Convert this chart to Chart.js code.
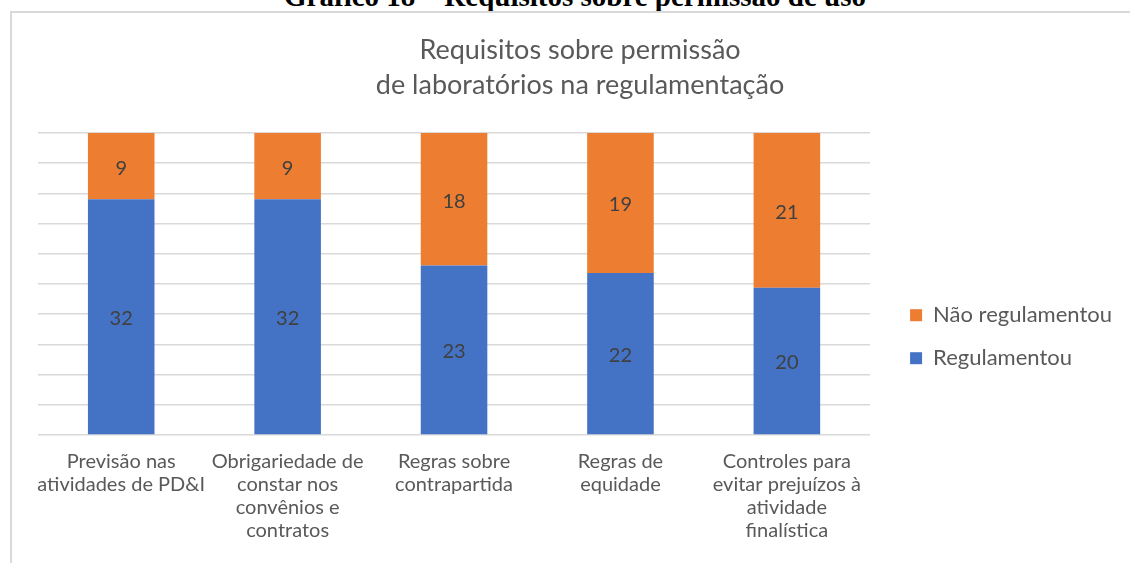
<!DOCTYPE html>
<html>
<head>
<meta charset="utf-8">
<script src="https://cdn.jsdelivr.net/npm/chart.js@4.4.1/dist/chart.umd.min.js"></script>
<style>
  html, body { margin: 0; padding: 0; background: #fff; overflow: hidden; }
  #wrap { position: relative; width: 1130px; height: 563px; }
  #heading {
    position: absolute; left: 0; width: 1150px; top: -20px; line-height: 1;
    text-align: center; font: bold 29px "Liberation Serif", serif; color: #000;
  }
  #frame {
    position: absolute; left: 10px; top: 11px; width: 1200px; height: 700px;
    border: 2px solid #d9d9d9; box-sizing: border-box;
  }
  #metricsChart { position: absolute; left: 0; top: 0; }
</style>
</head>
<body>
<div id="wrap">
  <div id="heading">Gráfico 18 – Requisitos sobre permissão de uso</div>
  <div id="frame"></div>
  <canvas id="metricsChart" width="1130" height="563"></canvas>
</div>
<script>
const categories = [
  ["Previsão nas", "atividades de PD&I"],
  ["Obrigariedade de", "constar nos", "convênios e", "contratos"],
  ["Regras sobre", "contrapartida"],
  ["Regras de", "equidade"],
  ["Controles para", "evitar prejuízos à", "atividade", "finalística"],
];
const regulamentou = [32, 32, 23, 22, 20];
const naoRegulamentou = [9, 9, 18, 19, 21];

const totals = regulamentou.map((v, i) => v + naoRegulamentou[i]);
const pct = (arr) => arr.map((v, i) => (v / totals[i]) * 100);

const textColor = "#595959";
const fontFamily = "Lato, 'Open Sans', sans-serif";

// inline value labels in the middle of each bar segment
const barLabels = {
  id: "barLabels",
  afterDatasetsDraw(chart) {
    const ctx = chart.ctx;
    ctx.save();
    ctx.font = "20px " + fontFamily;
    ctx.fillStyle = "#404040";
    ctx.textAlign = "center";
    ctx.textBaseline = "middle";
    chart.data.datasets.forEach((ds, di) => {
      chart.getDatasetMeta(di).data.forEach((bar, i) => {
        const y = (bar.y + bar.base) / 2 + 2;
        ctx.fillText(String(ds.raw[i]), bar.x, y);
      });
    });
    ctx.restore();
  },
};

new Chart(document.getElementById("metricsChart").getContext("2d"), {
  type: "bar",
  data: {
    labels: categories,
    datasets: [
      {
        label: "Regulamentou",
        raw: regulamentou,
        data: pct(regulamentou),
        backgroundColor: "#4472C4",
        barPercentage: 0.4,
        categoryPercentage: 1,
      },
      {
        label: "Não regulamentou",
        raw: naoRegulamentou,
        data: pct(naoRegulamentou),
        backgroundColor: "#ED7D31",
        barPercentage: 0.4,
        categoryPercentage: 1,
      },
    ],
  },
  options: {
    responsive: false,
    animation: false,
    layout: { padding: { left: 38, right: 8, top: 0, bottom: 6 } },
    plugins: {
      title: {
        display: true,
        text: ["Requisitos sobre permissão", "de laboratórios na regulamentação"],
        color: textColor,
        font: { family: fontFamily, size: 27, weight: "normal", lineHeight: 35 / 27 },
        padding: { top: 33, bottom: 30 },
      },
      legend: {
        position: "right",
        reverse: true,
        // empty title only pushes the items down
        title: { display: true, text: "", font: { size: 12 }, padding: { top: 0, bottom: 102 } },
        labels: {
          color: textColor,
          font: { family: fontFamily, size: 22 },
          boxWidth: 12,
          boxHeight: 12,
          padding: 21,
        },
      },
      tooltip: { enabled: false },
    },
    scales: {
      x: {
        stacked: true,
        grid: { display: false, drawTicks: false },
        border: { display: false },
        ticks: {
          color: textColor,
          font: { family: fontFamily, size: 20, lineHeight: 23 / 20 },
          maxRotation: 0,
          autoSkip: false,
          padding: 15,
        },
      },
      y: {
        stacked: true,
        position: "right",
        min: 0,
        max: 100,
        border: { display: false },
        grid: { color: "#d9d9d9", lineWidth: 1.5, drawTicks: false },
        ticks: { display: false, stepSize: 10 },
        // leaves a gap between the plot and the legend
        afterFit(scale) { scale.width = 19; },
      },
    },
  },
  plugins: [barLabels],
});
</script>
</body>
</html>
